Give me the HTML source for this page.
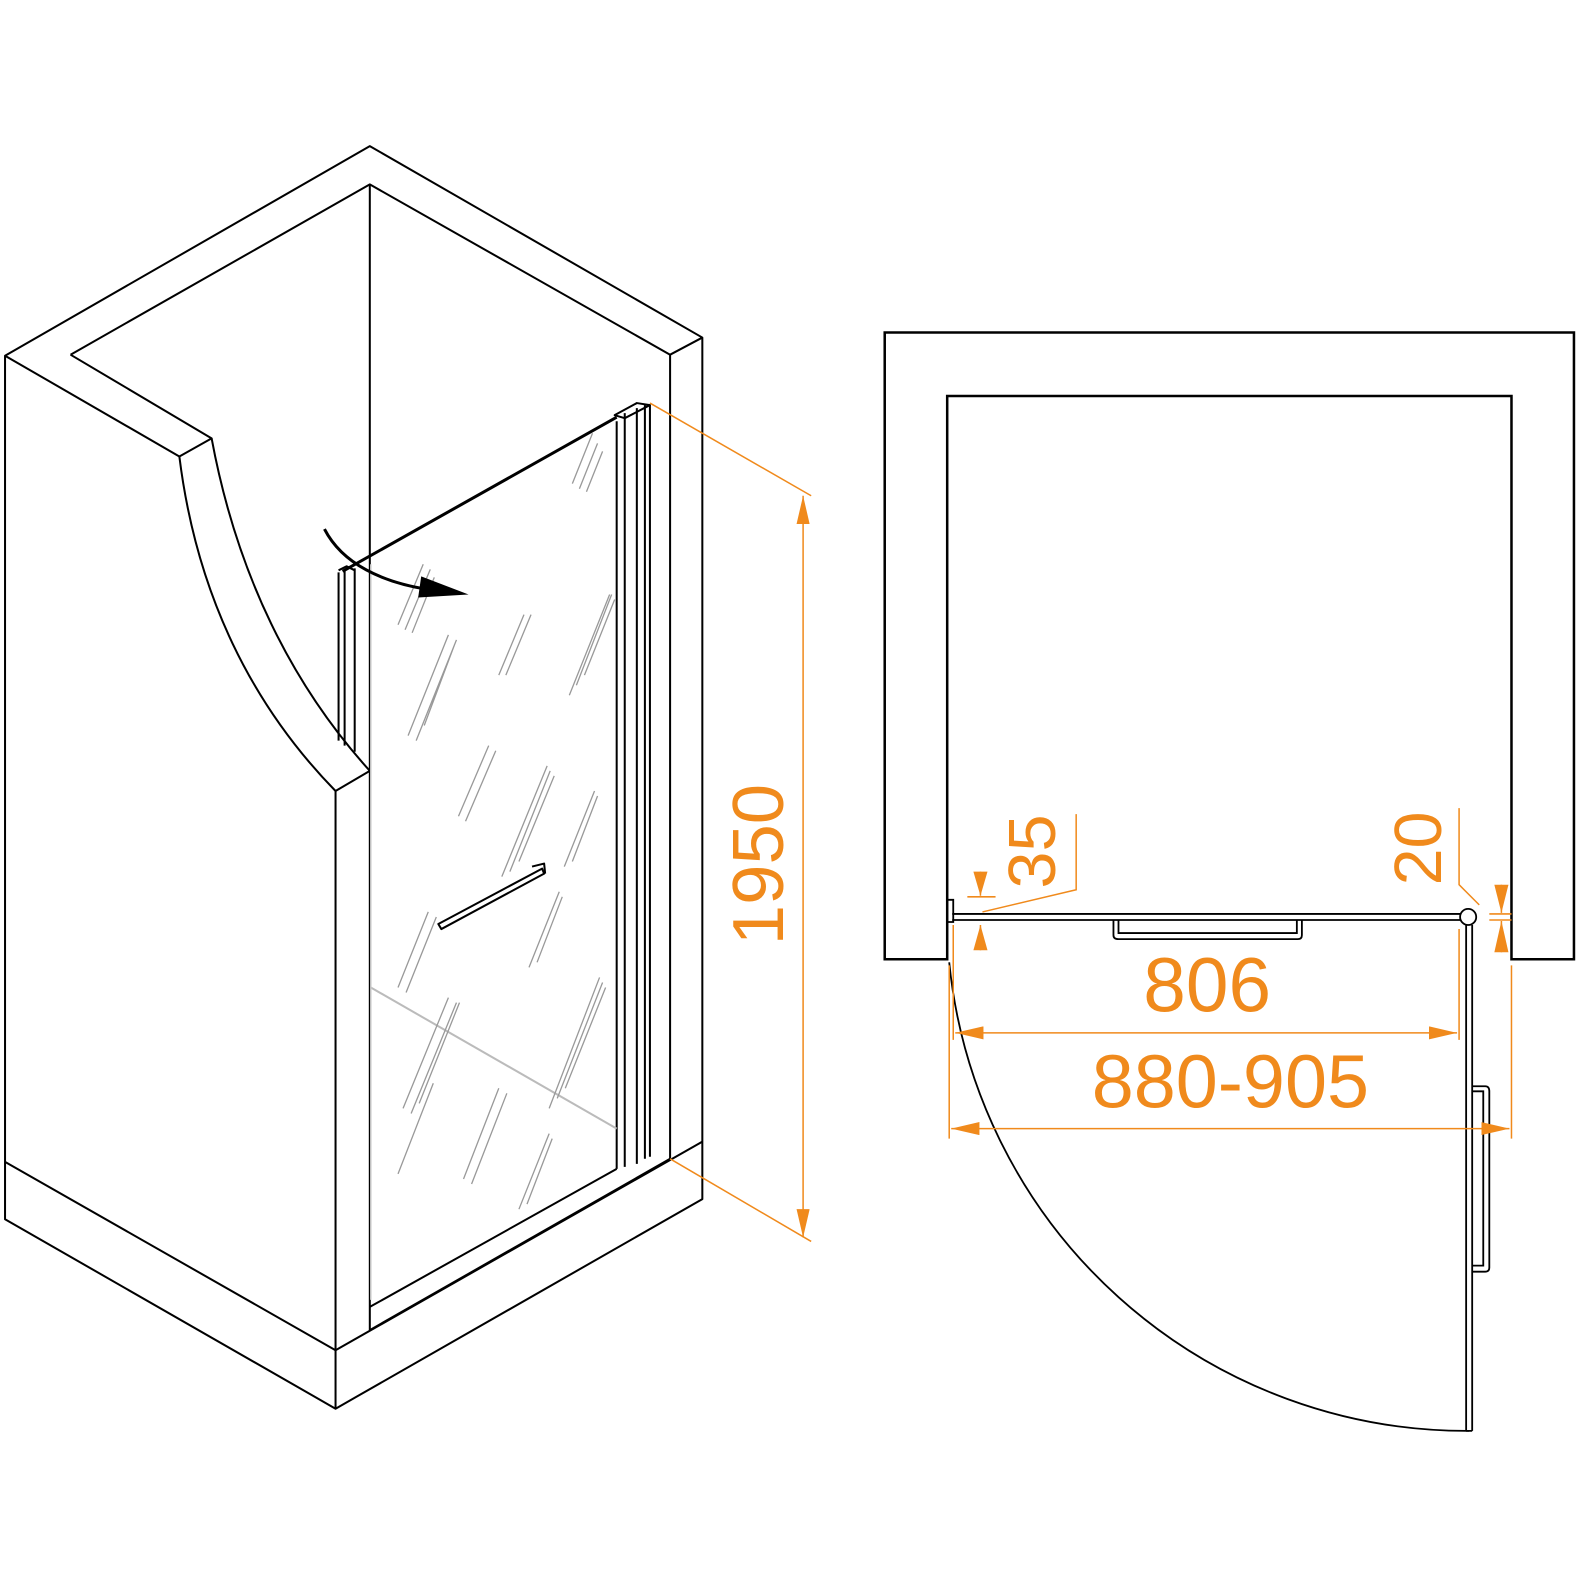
<!DOCTYPE html>
<html><head><style>html,body{margin:0;padding:0;background:#fff}svg{display:block}</style></head>
<body>
<svg width="1580" height="1580" viewBox="0 0 1568 1568" xmlns="http://www.w3.org/2000/svg">
<defs>
<marker id="ao" viewBox="0 0 10 10" refX="10" refY="5" markerWidth="28" markerHeight="13" markerUnits="userSpaceOnUse" orient="auto-start-reverse" preserveAspectRatio="none"><path d="M0,0L10,5L0,10z" fill="#f08a1c"/></marker>
</defs>
<g fill="none" stroke="#000" stroke-width="2" stroke-linejoin="round">
<path d="M5,353 L367,145 L697,335 L697,1190 L333,1398 L5,1210 Z" fill="#fff"/>
<path d="M5,353 L178,453"/>
<path d="M70,352 L367,183 L665,352 L697,335"/>
<path d="M70,352 L210,435 L178,453"/>
<path d="M178,453 C195,590 250,700 333,785"/>
<path d="M210,435 C235,570 290,680 367,765 L333,785"/>
<path d="M367,183 L367,1320"/>
<path d="M333,785 L333,1340 L5,1153"/>
<path d="M333,1340 L333,1398"/>
<path d="M665,352 L665,1150"/>
<path d="M333,1340 L697,1133"/>
<path d="M367,1297 L612,1160"/>
<path d="M367,1320 L665,1150"/>
<path d="M340,567 L612,414" stroke-width="3"/>
<path d="M612,418 L612,1160 M620,410 L620,1158 M632,405 L632,1155 M640,402 L640,1150 M645,402 L645,1148" stroke-width="2"/>
<path d="M610,412 L632,400 L645,402 L620,415 Z"/>
<path d="M336,568 L336,735 M342,566 L342,740 M352,564 L352,746 M336,566 L344,562 L352,566"/>
<path d="M435,917 L538,862 L540,867 L438,922 Z" stroke-width="2"/>
<path d="M528,860 L540,857 L541,867"/>
</g>
<path d="M368,980 L612,1120" stroke="#bbb" stroke-width="2" fill="none"/>
<path d="M368,560 L368,1290" stroke="#ccc" stroke-width="1.5" fill="none"/>
<g stroke="#999" stroke-width="1.3" fill="none">
<path d="M395,620 l25,-60 M402,625 l25,-60 M409,628 l22,-55 M568,480 l20,-50 M575,485 l18,-45 M582,488 l16,-40 M405,730 l40,-100 M413,735 l40,-100 M421,720 l30,-80 M495,670 l25,-60 M502,670 l25,-60 M565,690 l40,-100 M572,680 l35,-90 M580,670 l30,-75 M455,810 l30,-70 M462,815 l30,-70 M498,870 l45,-110 M506,865 l40,-100 M515,855 l35,-85 M560,860 l30,-75 M568,855 l25,-65 M395,980 l30,-75 M403,985 l30,-75 M525,960 l30,-75 M533,955 l25,-65 M400,1100 l45,-110 M408,1105 l45,-110 M416,1095 l40,-100 M460,1170 l35,-90 M468,1175 l35,-90 M545,1100 l50,-130 M553,1090 l45,-115 M561,1080 l40,-100 M395,1165 l35,-90 M515,1200 l30,-75 M523,1195 l25,-65"/>
</g>
<path d="M322,525 C340,560 380,578 425,585" stroke="#000" stroke-width="3" fill="none"/>
<path d="M418,572 L415,593 L465,590 Z" fill="#000"/>
<g stroke="#f08a1c" stroke-width="1.5" fill="none">
<path d="M645,400 L805,492"/>
<path d="M665,1150 L805,1232"/>
<path d="M797,492 L797,1228" marker-start="url(#ao)" marker-end="url(#ao)"/>
</g>
<text x="0" y="0" transform="translate(777,858) rotate(-90)" text-anchor="middle" font-family="Liberation Sans, sans-serif" font-size="72" fill="#f08a1c">1950</text>
<g fill="none" stroke="#000" stroke-width="2.5">
<path d="M878,330 L1562,330 L1562,952 L1500,952 L1500,393 L940,393 L940,952 L878,952 Z"/>
</g>
<g fill="none" stroke="#000" stroke-width="1.8">
<path d="M945,907 L1455,907 M945,913 L1455,913"/>
<path d="M940,893 L946,893 L946,915 L940,915"/>
<path d="M1105,913 L1105,928 Q1105,932 1110,932 L1288,932 Q1292,932 1292,928 L1292,913"/>
<path d="M1110,913 L1110,926 L1287,926 L1287,913"/>
<circle cx="1457" cy="910" r="8" fill="#fff"/>
<path d="M1455,918 L1455,1420 M1461,918 L1461,1420 M1455,1420 L1461,1420"/>
<path d="M1461,1078 L1474,1078 Q1478,1078 1478,1083 L1478,1258 Q1478,1262 1474,1262 L1461,1262"/>
<path d="M1461,1083 L1472,1083 L1472,1256 L1461,1256"/>
<path d="M942,955 A516,516 0 0 0 1458,1420"/>
</g>
<g stroke="#f08a1c" stroke-width="1.5" fill="none">
<path d="M946,918 L946,1032 M1448,922 L1448,1032"/>
<path d="M948,1025 L1446,1025" marker-start="url(#ao)" marker-end="url(#ao)"/>
<path d="M942,958 L942,1130 M1500,958 L1500,1130"/>
<path d="M944,1120 L1498,1120" marker-start="url(#ao)" marker-end="url(#ao)"/>
<path d="M960,890 L988,890 M973,865 L973,889 M973,918 L973,943" />
<path d="M975,905 L1068,883 L1068,808"/>
<path d="M1478,907 L1500,907 M1478,913 L1500,913 M1490,878 L1490,906 M1490,914 L1490,945"/>
<path d="M1468,898 L1448,878 L1448,802"/>
</g>
<g fill="#f08a1c">
<path d="M966,865 L980,865 L973,889 Z"/>
<path d="M966,943 L980,943 L973,918 Z"/>
<path d="M1483,878 L1497,878 L1490,906 Z"/>
<path d="M1483,945 L1497,945 L1490,914 Z"/>
</g>
<g font-family="Liberation Sans, sans-serif" fill="#f08a1c" text-anchor="middle">
<text x="1198" y="1004" font-size="76">806</text>
<text x="1221" y="1099" font-size="75">880-905</text>
<text transform="translate(1047,845) rotate(-90)" font-size="66">35</text>
<text transform="translate(1430,842) rotate(-90)" font-size="66">20</text>
</g>
</svg>
</body></html>
